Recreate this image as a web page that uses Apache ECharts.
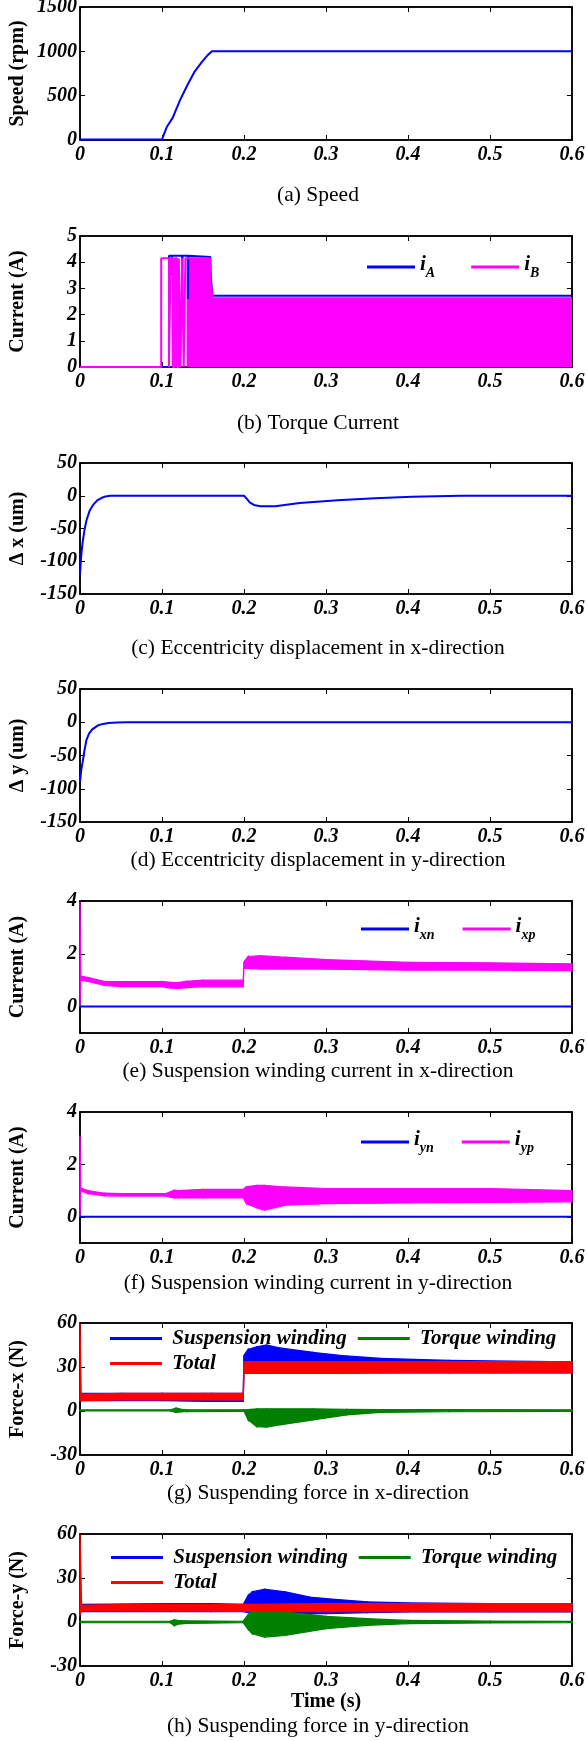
<!DOCTYPE html>
<html>
<head>
<meta charset="utf-8">
<script src="https://cdn.jsdelivr.net/npm/echarts@6/dist/echarts.min.js"></script>
<style>
html,body{margin:0;padding:0;background:#fff}
#main{width:587px;height:1741px}
</style>
</head>
<body>
<div id="main"></div>
<script>
// 数据：各子图曲线（时间单位 s）

// 横轴刻度
var timeTicks = [0, 0.1, 0.2, 0.3, 0.4, 0.5, 0.6];

// (a) 转速
var speedTicks = [0, 500, 1000, 1500];
var speedT = [0, 0.1, 0.106, 0.113, 0.122, 0.131, 0.14, 0.149, 0.156, 0.161, 0.6];
var speedV = [6, 6, 150, 250, 450, 620, 775, 885, 960, 1000, 1000];

// (b) 转矩绕组电流
var torqueCurTicks = [0, 1, 2, 3, 4, 5];
var iaT = [0, 0.1085, 0.1085, 0.112, 0.112, 0.1125, 0.1245, 0.1245, 0.125, 0.1315, 0.1315, 0.132, 0.159, 0.1595, 0.1612, 0.1618, 0.6];
var iaV = [0, 0, 4.25, 4.25, 3.5, 4.25, 4.25, 2.2, 4.25, 4.25, 2.6, 4.25, 4.2, 3.4, 3.4, 2.72, 2.72];
var ibT = [0, 0.099, 0.099, 0.1085, 0.1085, 0.1105, 0.1105, 0.113, 0.113, 0.1155, 0.1155, 0.118, 0.118, 0.1205, 0.1205, 0.1225, 0.1225, 0.1245, 0.1245, 0.1265, 0.1265, 0.1285, 0.1285, 0.13];
var ibV = [0, 0, 4.15, 4.15, 0, 0, 4.15, 4.15, 0, 0, 4.15, 4.15, 0, 0, 4.15, 4.15, 0, 0, 4.15, 4.15, 0, 0, 4.15, 4.15];
var ibFillT = [0.13, 0.1585, 0.159, 0.1612, 0.1618, 0.6];
var ibFillV = [4.15, 4.15, 3.35, 3.35, 2.62, 2.62];

// (c)(d) 偏心位移
var dispTicks = [-150, -100, -50, 0, 50];
var dxT = [0, 0.001, 0.002, 0.0035, 0.0055, 0.008, 0.012, 0.016, 0.021, 0.026, 0.031, 0.037, 0.045, 0.2, 0.203, 0.207, 0.212, 0.22, 0.238, 0.268, 0.314, 0.36, 0.405, 0.464, 0.6];
var dxV = [-120, -100, -85, -68, -52, -37, -22, -14, -7, -3.5, -1, 0, 0, 0, -4, -10, -14, -16, -16, -11, -7, -4, -1.5, 0, 0];
var dyT = [0, 0.0015, 0.0032, 0.0055, 0.0078, 0.011, 0.0146, 0.0215, 0.028, 0.035, 0.045, 0.058, 0.6];
var dyV = [-90, -72, -60, -42, -27, -17, -11, -5, -2.5, -1, -0.5, 0, 0];

// (e)(f) 悬浮绕组电流（上下包络）
var suspCurTicks = [0, 2, 4];
var ixnT = [0, 0.6];
var ixnV = [0, 0];
var ixpT = [0, 0.001, 0.01, 0.03, 0.05, 0.1, 0.11, 0.12, 0.13, 0.15, 0.199, 0.2, 0.205, 0.22, 0.25, 0.3, 0.4, 0.5, 0.6];
var ixpLo = [0, 1.0, 0.95, 0.8, 0.76, 0.76, 0.7, 0.69, 0.72, 0.75, 0.75, 1.45, 1.45, 1.42, 1.42, 1.42, 1.38, 1.38, 1.36];
var ixpHi = [3.95, 1.15, 1.1, 0.95, 0.95, 0.95, 0.92, 0.91, 0.96, 1.0, 1.0, 1.7, 1.9, 1.93, 1.87, 1.78, 1.68, 1.66, 1.62];
var iynT = [0, 0.6];
var iynV = [0, 0];
var iypT = [0, 0.001, 0.01, 0.03, 0.05, 0.105, 0.11, 0.115, 0.12, 0.15, 0.199, 0.203, 0.215, 0.225, 0.25, 0.3, 0.4, 0.5, 0.6];
var iypLo = [0, 1.0, 0.88, 0.8, 0.79, 0.79, 0.75, 0.72, 0.72, 0.72, 0.72, 0.5, 0.35, 0.25, 0.44, 0.5, 0.53, 0.55, 0.57];
var iypHi = [3.1, 1.1, 1.0, 0.9, 0.89, 0.89, 0.95, 1.02, 1.0, 1.05, 1.05, 1.15, 1.2, 1.2, 1.14, 1.08, 1.08, 1.08, 1.0];

// (g) x方向悬浮力（上下包络）
var forceTicks = [-30, 0, 30, 60];
var suspXT = [0, 0.002, 0.1, 0.16, 0.199, 0.2, 0.205, 0.2155, 0.2276, 0.244, 0.284, 0.325, 0.366, 0.45, 0.6];
var suspXLo = [7, 7, 7, 6.5, 6.5, 26, 26, 26, 26, 26, 26, 26, 26, 26, 26];
var suspXHi = [12, 12, 12, 12, 12, 38, 42, 43.8, 45, 43, 40, 37.5, 35.9, 34.5, 33.5];
var torqXT = [0, 0.11, 0.117, 0.125, 0.13, 0.199, 0.2, 0.205, 0.2155, 0.2276, 0.244, 0.284, 0.325, 0.366, 0.45, 0.6];
var torqXLo = [0, 0, -1, -0.5, -0.5, -0.2, -0.2, -6, -10.7, -11, -9.4, -6.1, -2.7, -1, -0.5, -0.2];
var torqXHi = [0.8, 0.8, 2, 1, 0.8, 0.8, 0.8, 1, 1.5, 1.5, 1.5, 1.5, 1.2, 1, 1, 0.8];
var totXT = [0, 0.0015, 0.05, 0.1, 0.15, 0.199, 0.2, 0.3, 0.4, 0.5, 0.6];
var totXLo = [7, 7, 7.5, 7.5, 7.5, 7.5, 25.7, 25.7, 26, 26, 26];
var totXHi = [60, 11.5, 12, 12, 12, 12, 33.6, 33.6, 33.6, 33.6, 33.6];

// (h) y方向悬浮力（上下包络）
var suspYT = [0, 0.11, 0.16, 0.199, 0.205, 0.21, 0.225, 0.25, 0.28, 0.3, 0.35, 0.4, 0.5, 0.6];
var suspYLo = [7, 7, 7, 7, 6.5, 6.9, 4.6, 5.3, 5.7, 5.7, 6.3, 6.9, 6.9, 6.9];
var suspYHi = [12, 12.6, 12.6, 12, 18, 20.6, 22.4, 20.6, 17, 16, 13.7, 13, 12.6, 12];
var torqYT = [0, 0.11, 0.115, 0.12, 0.13, 0.199, 0.205, 0.21, 0.225, 0.25, 0.3, 0.35, 0.4, 0.5, 0.6];
var torqYLo = [-0.5, -0.5, -2.5, -1.5, -1, -0.5, -5, -8, -10.3, -9.2, -4.6, -2.3, -1.1, -0.6, -0.4];
var torqYHi = [0.5, 0.5, 1.5, 1, 0.8, 0.5, 5, 8, 8.5, 6.9, 3.9, 2.3, 1.1, 0.6, 0.4];
var totYT = [0, 0.002, 0.05, 0.2, 0.3, 0.4, 0.5, 0.6];
var totYLo = [5, 7.5, 7.5, 7.3, 7, 7, 7, 7];
var totYHi = [60, 11.4, 12, 12, 12.6, 12.6, 12.6, 12.6];

var yNames = ['Speed (rpm)', 'Current (A)', '\u0394 x (um)', '\u0394 y (um)', 'Current (A)', 'Current (A)', 'Force-x (N)', 'Force-y (N)'];
var yTicks = [speedTicks, torqueCurTicks, dispTicks, dispTicks, suspCurTicks, suspCurTicks, forceTicks, forceTicks];
var yMins = [0, 0, -150, -150, -1, -1, -30, -30];
var yMaxs = [1500, 5, 50, 50, 4, 4, 60, 60];
var captions = ['(a) Speed', '(b) Torque Current', '(c) Eccentricity displacement in x-direction',
    '(d) Eccentricity displacement in y-direction', '(e) Suspension winding current in x-direction',
    '(f) Suspension winding current in y-direction', '(g) Suspending force in x-direction',
    '(h) Suspending force in y-direction'];

// 版面位置
var panelTop = [7, 236, 463, 689, 901, 1112, 1323, 1534];
var panelH = [133, 131, 131, 133, 132, 131, 132, 132];
var capY = [195, 423, 648, 860, 1071, 1283, 1493, 1726];

var SERIF = "'Liberation Serif', 'Times New Roman', serif";
var BLUE = '#0000ff', MAG = '#ff00ff', GREEN = '#008000', RED = '#ff0000';

var myChart = echarts.init(document.getElementById('main'));

function pairs(xs, ys) {
    return xs.map(function (x, i) { return [x, ys[i]]; });
}

function line(name, p, xs, ys, color, area) {
    var s = {
        type: 'line', name: name, xAxisIndex: 2 * p, yAxisIndex: 2 * p,
        data: pairs(xs, ys), symbol: 'none', animation: false,
        color: color, itemStyle: { color: color }, lineStyle: { color: color, width: 2 }
    };
    if (area) s.areaStyle = { color: color, opacity: 1 };
    return s;
}

// 高频振荡部分：用上下包络围成的多边形带表示
function band(name, p, xs, lo, hi, color) {
    var segs = [];
    for (var i = 0; i < xs.length - 1; i++) {
        segs.push([xs[i], lo[i], hi[i], xs[i + 1], lo[i + 1], hi[i + 1]]);
    }
    return {
        type: 'custom', name: name, xAxisIndex: 2 * p, yAxisIndex: 2 * p,
        data: segs, encode: { x: [0, 3], y: [1, 2, 4, 5] }, animation: false,
        color: color, itemStyle: { color: color },
        renderItem: function (params, api) {
            var a = api.coord([api.value(0), api.value(1)]);
            var b = api.coord([api.value(3), api.value(4)]);
            var c = api.coord([api.value(3), api.value(5)]);
            var d = api.coord([api.value(0), api.value(2)]);
            return {
                type: 'polygon',
                shape: { points: [a, b, c, d] },
                style: { fill: color, stroke: color, lineWidth: 1.2 }
            };
        }
    };
}

var labelFont = { fontFamily: SERIF, fontWeight: 'bold', fontStyle: 'italic', fontSize: 20, color: '#000' };
var axisLineStyle = { show: true, onZero: false, lineStyle: { color: '#000', width: 1.5 } };
var nameFont = { fontFamily: SERIF, fontWeight: 'bold', fontSize: 20, color: '#000' };
var blankLabel = function () { return ''; };

var grids = [], xAxes = [], yAxes = [];
for (var p = 0; p < 8; p++) {
    grids.push({
        left: 80, width: 492, top: panelTop[p], height: panelH[p], outerBoundsMode: 'none',
        show: true, borderColor: '#000', borderWidth: 1.5, backgroundColor: 'transparent'
    });
    xAxes.push({
        type: 'value', gridIndex: p, min: 0, max: 0.6, position: 'bottom',
        axisLine: axisLineStyle, splitLine: { show: false },
        axisTick: { inside: true, length: 5, customValues: timeTicks, lineStyle: { color: '#000' } },
        axisLabel: Object.assign({ margin: 5, customValues: timeTicks, formatter: function (v) { return v === 0 ? '0' : v.toFixed(1); } }, labelFont),
        name: p === 7 ? 'Time (s)' : '', nameLocation: 'middle', nameGap: 26, nameMoveOverlap: false,
        nameTextStyle: nameFont
    });
    xAxes.push({
        type: 'value', gridIndex: p, min: 0, max: 0.6, position: 'top', show: true,
        axisLine: axisLineStyle, splitLine: { show: false },
        axisTick: { show: true, inside: true, length: 5, customValues: timeTicks, lineStyle: { color: '#000' } },
        axisLabel: { show: true, customValues: timeTicks, formatter: blankLabel }
    });
    yAxes.push({
        type: 'value', gridIndex: p, min: yMins[p], max: yMaxs[p], position: 'left',
        axisLine: axisLineStyle, splitLine: { show: false },
        axisTick: { inside: true, length: 5, customValues: yTicks[p], lineStyle: { color: '#000' } },
        axisLabel: Object.assign({ margin: 3, customValues: yTicks[p], formatter: function (v) { return String(v); } }, labelFont),
        name: yNames[p], nameLocation: 'middle', nameGap: 52, nameMoveOverlap: false,
        nameTextStyle: nameFont
    });
    yAxes.push({
        type: 'value', gridIndex: p, min: yMins[p], max: yMaxs[p], position: 'right', show: true,
        axisLine: axisLineStyle, splitLine: { show: false },
        axisTick: { show: true, inside: true, length: 5, customValues: yTicks[p], lineStyle: { color: '#000' } },
        axisLabel: { show: true, customValues: yTicks[p], formatter: blankLabel }
    });
}

var series = [];
series.push(line('speed', 0, speedT, speedV, BLUE));
series.push(line('iA', 1, iaT, iaV, BLUE));
series.push(line('iB', 1, ibT, ibV, MAG));
series.push(line('iB', 1, ibFillT, ibFillV, MAG, true));
series.push(line('dx', 2, dxT, dxV, BLUE));
series.push(line('dy', 3, dyT, dyV, BLUE));
series.push(line('ixn', 4, ixnT, ixnV, BLUE));
series.push(band('ixp', 4, ixpT, ixpLo, ixpHi, MAG));
series.push(line('iyn', 5, iynT, iynV, BLUE));
series.push(band('iyp', 5, iypT, iypLo, iypHi, MAG));
series.push(band('Suspension winding', 6, suspXT, suspXLo, suspXHi, BLUE));
series.push(band('Torque winding', 6, torqXT, torqXLo, torqXHi, GREEN));
series.push(band('Total', 6, totXT, totXLo, totXHi, RED));
series.push(band('Suspension winding', 7, suspYT, suspYLo, suspYHi, BLUE));
series.push(band('Torque winding', 7, torqYT, torqYLo, torqYHi, GREEN));
series.push(band('Total', 7, totYT, totYLo, totYHi, RED));

var subRich = {
    i: { fontFamily: SERIF, fontWeight: 'bold', fontStyle: 'italic', fontSize: 21, color: '#000', padding: [0, 0, 5, 0] },
    s: { fontFamily: SERIF, fontWeight: 'bold', fontStyle: 'italic', fontSize: 14, color: '#000', verticalAlign: 'bottom' }
};
function subLegend(names, left, top, gap) {
    return {
        data: names, left: left, top: top, icon: 'rect', itemWidth: 48, itemHeight: 3, itemGap: gap,
        selectedMode: false, textStyle: { rich: subRich },
        formatter: function (n) { return '{i|i}{s|' + n.slice(1) + '}'; }
    };
}
function forceLegend(names, left, top) {
    return {
        data: names, left: left, top: top, icon: 'rect', itemWidth: 52, itemHeight: 3, itemGap: 11,
        selectedMode: false,
        textStyle: { fontFamily: SERIF, fontWeight: 'bold', fontStyle: 'italic', fontSize: 21, color: '#000' },
        formatter: function (n) { return ' ' + n; }
    };
}

var legends = [
    subLegend(['iA', 'iB'], 362, 249, 36),
    subLegend(['ixn', 'ixp'], 356, 911, 28),
    subLegend(['iyn', 'iyp'], 356, 1124, 28),
    forceLegend(['Suspension winding', 'Torque winding'], 105, 1323),
    forceLegend(['Total'], 105, 1348),
    forceLegend(['Suspension winding', 'Torque winding'], 106, 1542),
    forceLegend(['Total'], 106, 1567)
];

var texts = captions.map(function (c, i) {
    return {
        type: 'text', x: 318, y: capY[i],
        style: { text: c, align: 'center', verticalAlign: 'middle', font: '21.5px ' + SERIF, fill: '#000' }
    };
});

var option = {
    backgroundColor: '#fff',
    animation: false,
    grid: grids,
    xAxis: xAxes,
    yAxis: yAxes,
    legend: legends,
    graphic: { elements: texts },
    series: series
};

myChart.setOption(option);
</script>
</body>
</html>
